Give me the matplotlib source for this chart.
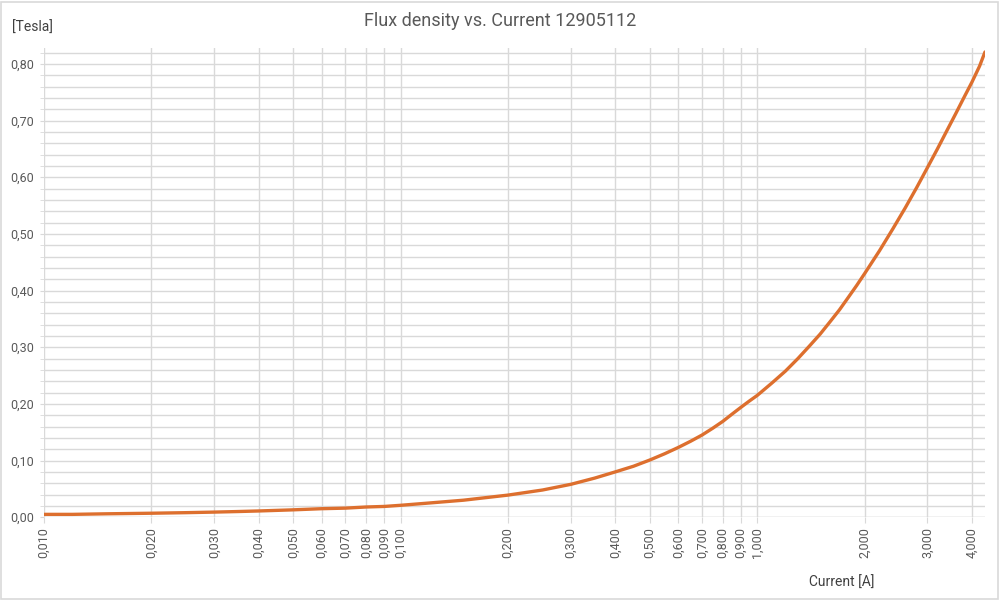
import numpy as np
import matplotlib.pyplot as plt
from matplotlib.ticker import FixedLocator, FuncFormatter, NullFormatter

plt.rcParams['font.family'] = ['Liberation Sans Narrow', 'Roboto', 'DejaVu Sans']

# Data
current = [0.010, 0.012, 0.015, 0.020, 0.025, 0.030, 0.035, 0.040, 0.050, 0.060,
           0.070, 0.080, 0.090, 0.100, 0.120, 0.150, 0.200, 0.250, 0.300, 0.350,
           0.400, 0.450, 0.500, 0.550, 0.600, 0.650, 0.700, 0.750, 0.800, 0.850,
           0.900, 0.950, 1.000, 1.100, 1.200, 1.300, 1.400, 1.500, 1.600, 1.700,
           1.800, 1.900, 2.000, 2.200, 2.400, 2.600, 2.800, 3.000, 3.200, 3.400,
           3.600, 3.800, 4.000, 4.200, 4.350]
flux = [0.005, 0.005, 0.006, 0.007, 0.008, 0.009, 0.010, 0.011, 0.013, 0.015,
        0.016, 0.018, 0.019, 0.021, 0.025, 0.030, 0.039, 0.048, 0.058, 0.069,
        0.080, 0.090, 0.101, 0.112, 0.123, 0.134, 0.145, 0.157, 0.169, 0.182,
        0.194, 0.205, 0.215, 0.237, 0.258, 0.280, 0.302, 0.323, 0.345, 0.366,
        0.388, 0.409, 0.430, 0.470, 0.509, 0.546, 0.582, 0.617, 0.650, 0.682,
        0.712, 0.741, 0.768, 0.796, 0.821]

x_ticks = [0.01, 0.02, 0.03, 0.04, 0.05, 0.06, 0.07, 0.08, 0.09,
           0.1, 0.2, 0.3, 0.4, 0.5, 0.6, 0.7, 0.8, 0.9,
           1.0, 2.0, 3.0, 4.0]
y_major = [0.0, 0.1, 0.2, 0.3, 0.4, 0.5, 0.6, 0.7, 0.8]
y_minor = [0.02, 0.04, 0.06, 0.08, 0.12, 0.14, 0.16, 0.18, 0.22, 0.24, 0.26, 0.28,
           0.32, 0.34, 0.36, 0.38, 0.42, 0.44, 0.46, 0.48, 0.52, 0.54, 0.56, 0.58,
           0.62, 0.64, 0.66, 0.68, 0.72, 0.74, 0.76, 0.78, 0.82]

grey = '#595959'
grid_col = '#d9d9d9'

fig = plt.figure(figsize=(10, 6), dpi=100)
ax = fig.add_axes([0.044, 0.138, 0.941, 0.782])

ax.plot(current, flux, color='#DD6F2E', linewidth=2.4, solid_capstyle='round',
        solid_joinstyle='round', zorder=3)

ax.set_xscale('log')
ax.set_xlim(0.01, 4.35)
ax.set_ylim(0, 0.828)

ax.xaxis.set_major_locator(FixedLocator(x_ticks))
ax.xaxis.set_minor_locator(FixedLocator([]))
ax.xaxis.set_minor_formatter(NullFormatter())
ax.xaxis.set_major_formatter(FuncFormatter(lambda v, p: f'{v:.3f}'.replace('.', ',')))
ax.yaxis.set_major_locator(FixedLocator(y_major))
ax.yaxis.set_minor_locator(FixedLocator(y_minor))
ax.yaxis.set_major_formatter(FuncFormatter(lambda v, p: f'{v:.2f}'.replace('.', ',')))

ax.grid(True, which='both', color=grid_col, linewidth=1.0, zorder=0)
ax.set_axisbelow(True)
for s in ax.spines.values():
    s.set_visible(False)
ax.axhline(0, color=grid_col, linewidth=1.0, zorder=1)

ax.tick_params(axis='x', which='major', labelrotation=90, labelsize=9, colors=grey,
               length=4, color=grid_col, pad=3)
ax.tick_params(axis='y', which='both', labelsize=9, colors=grey, length=3, color=grid_col, pad=4)

fig.text(0.5, 0.965, 'Flux density vs. Current 12905112', ha='center', va='center',
         fontsize=13, color=grey)
fig.text(0.012, 0.953, '[Tesla]', ha='left', va='center', fontsize=10, color='#404040')
fig.text(0.842, 0.028, 'Current [A]', ha='center', va='center', fontsize=10, color='#404040')

# chart border
fig.patches.append(plt.Rectangle((0.001, 0.002), 0.997, 0.995, transform=fig.transFigure,
                                 fill=False, edgecolor='#d9d9d9', linewidth=1.2))

fig.savefig('out.png', dpi=100)
